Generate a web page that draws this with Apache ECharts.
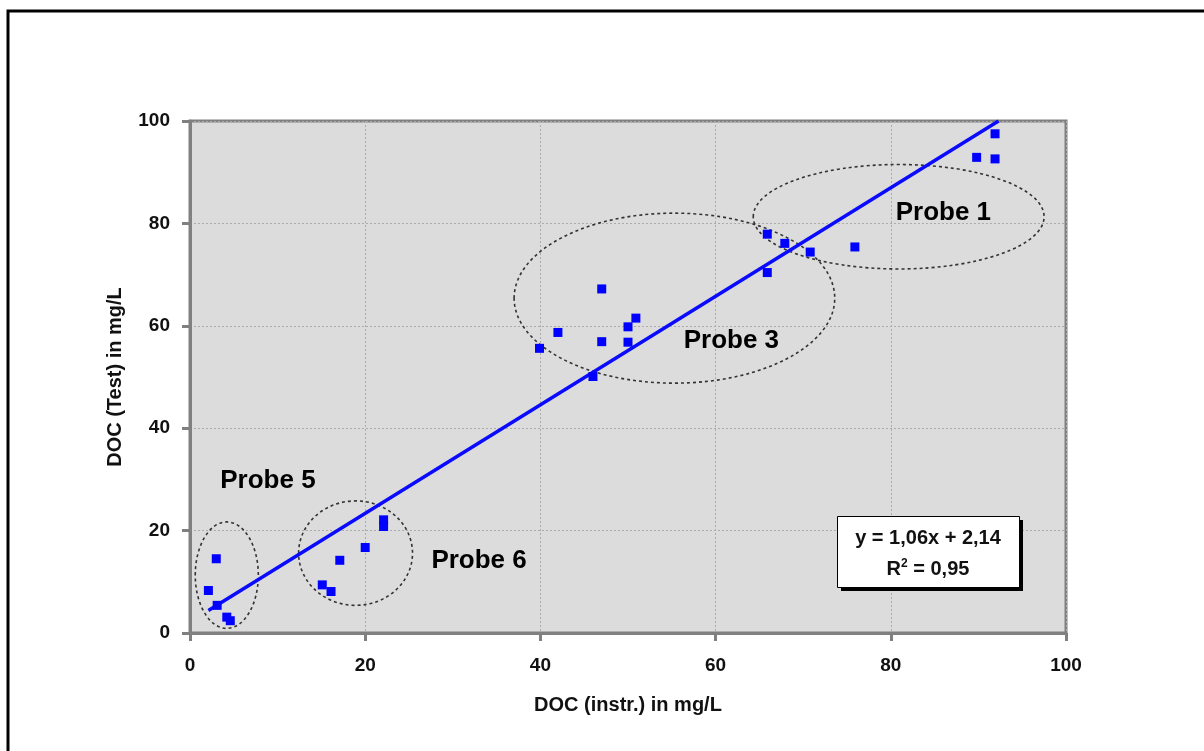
<!DOCTYPE html>
<html>
<head>
<meta charset="utf-8">
<script src="https://cdn.jsdelivr.net/npm/echarts@6/dist/echarts.min.js"></script>
<style>
  html, body { margin: 0; padding: 0; background: #fff; }
  #main { width: 1204px; height: 751px; }
</style>
</head>
<body>
<div id="main"></div>
<script>
// measured points (x = DOC instr., y = DOC Test)
var xVals = [3.0, 2.1, 3.1, 4.2, 4.6, 15.1, 16.1, 17.1, 20.0, 22.1, 22.1,
             47.0, 50.9, 50.0, 42.0, 47.0, 50.0, 39.9, 46.0,
             65.9, 67.9, 70.8, 75.9, 65.9,
             91.9, 89.8, 91.9];
var yVals = [14.5, 8.3, 5.4, 3.1, 2.4, 9.4, 8.1, 14.2, 16.7, 22.1, 20.8,
             67.2, 61.5, 59.8, 58.7, 56.9, 56.8, 55.6, 50.1,
             77.9, 76.1, 74.4, 75.4, 70.4,
             97.5, 92.9, 92.6];

// trend line end points
var trendX = [2.1, 92.3];
var trendY = [4.4, 100];

// groups: centre x, centre y, radius x, radius y
var probeNames = ['Probe 1', 'Probe 3', 'Probe 5', 'Probe 6'];
var ellCx = [80.9, 55.3, 4.2, 18.9];
var ellCy = [81.3, 65.4, 11.3, 15.6];
var ellRx = [16.6, 18.3, 3.6, 6.5];
var ellRy = [10.2, 16.6, 10.4, 10.2];
var labelX = [86.0, 61.8, 8.9, 33.0];
var labelY = [82.0, 57.0, 29.7, 14.1];

var ticks = [0, 20, 40, 60, 80, 100];

var chart = echarts.init(document.getElementById('main'));

var points = xVals.map(function (x, i) { return [x, yVals[i]]; });
var trend = trendX.map(function (x, i) { return [x, trendY[i]]; });
var ellipses = ellCx.map(function (c, i) { return [c, ellCy[i], ellRx[i], ellRy[i]]; });
var labels = labelX.map(function (x, i) { return { value: [x, labelY[i]], name: probeNames[i] }; });

var font = 'Liberation Sans, Arial, sans-serif';

var axisCommon = {
  type: 'value',
  min: ticks[0],
  max: ticks[ticks.length - 1],
  interval: 20,
  axisLine: { show: true, lineStyle: { color: '#808080', width: 3 } },
  axisTick: { show: true, inside: false, length: 8, lineStyle: { color: '#808080', width: 3 } },
  splitLine: { show: true, lineStyle: { color: '#ababab', width: 1, type: [2, 2] } },
  axisLabel: { color: '#111', fontSize: 19, fontWeight: 'bold', fontFamily: font },
  nameTextStyle: { color: '#111', fontSize: 20, fontWeight: 'bold', fontFamily: font }
};

var option = {
  animation: false,
  backgroundColor: '#fff',
  grid: {
    left: 190, top: 121, right: 138, bottom: 118,
    show: true,
    backgroundColor: '#dcdcdc',
    borderColor: '#808080',
    borderWidth: 3
  },
  xAxis: Object.assign({}, axisCommon, {
    name: 'DOC (instr.) in mg/L',
    nameLocation: 'middle',
    nameGap: 62,
    axisLabel: Object.assign({}, axisCommon.axisLabel, { margin: 23 })
  }),
  yAxis: Object.assign({}, axisCommon, {
    name: 'DOC (Test) in mg/L',
    nameLocation: 'middle',
    nameGap: 65,
    axisLabel: Object.assign({}, axisCommon.axisLabel, { margin: 20 })
  }),
  graphic: [
    {
      type: 'rect',
      z: 100,
      shape: { x: 8, y: 11, width: 1400, height: 1000 },
      style: { fill: 'none', stroke: '#000', lineWidth: 3 },
      silent: true
    },
    // box shadow
    {
      type: 'rect',
      z: 100,
      shape: { x: 841, y: 520, width: 182, height: 71 },
      style: { fill: '#000' }
    },
    {
      type: 'rect',
      z: 101,
      shape: { x: 837.5, y: 516.5, width: 182, height: 71 },
      style: { fill: '#fff', stroke: '#000', lineWidth: 1 }
    },
    {
      type: 'text',
      z: 102,
      x: 928, y: 538,
      style: { text: 'y = 1,06x + 2,14', fill: '#111', font: 'bold 20px ' + font,
               align: 'center', verticalAlign: 'middle' }
    },
    {
      type: 'text',
      z: 102,
      x: 928, y: 569,
      style: { text: '{n|R}{s|2}{n| = 0,95}', align: 'center', verticalAlign: 'middle',
               rich: {
                 n: { fill: '#111', font: 'bold 20px ' + font },
                 s: { fill: '#111', font: 'bold 12px ' + font, verticalAlign: 'top', padding: [0, 0, 10, 0] }
               } }
    }
  ],
  series: [
    {
      type: 'custom',
      silent: true,
      clip: false,
      z: 3,
      encode: { x: 0, y: 1 },
      data: ellipses,
      renderItem: function (params, api) {
        var c = api.coord([api.value(0), api.value(1)]);
        var s = api.size([api.value(2), api.value(3)]);
        return {
          type: 'ellipse',
          shape: { cx: c[0], cy: c[1], rx: s[0], ry: s[1] },
          style: { fill: 'none', stroke: '#333', lineWidth: 1.6, lineDash: [3, 3] }
        };
      }
    },
    {
      type: 'line',
      data: trend,
      symbol: 'none',
      z: 4,
      lineStyle: { color: '#0a0aff', width: 3.5 }
    },
    {
      type: 'scatter',
      data: points,
      symbol: 'rect',
      symbolSize: 9,
      z: 5,
      itemStyle: { color: '#0000ff', opacity: 1 }
    },
    {
      type: 'scatter',
      data: labels,
      symbolSize: 0,
      silent: true,
      z: 6,
      itemStyle: { opacity: 1 },
      label: {
        show: true,
        position: 'inside',
        formatter: '{b}',
        color: '#000',
        fontSize: 26,
        fontWeight: 'bold',
        fontFamily: font
      }
    }
  ]
};

chart.setOption(option);
</script>
</body>
</html>
